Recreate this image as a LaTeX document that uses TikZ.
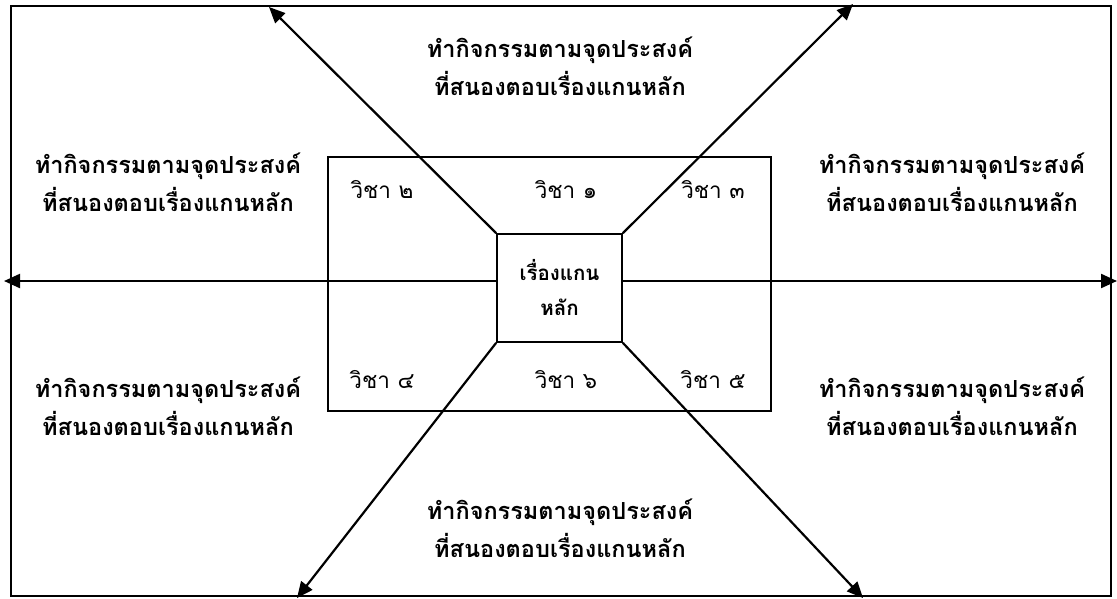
\documentclass[tikz,border=0pt]{standalone}
\usepackage{fontspec}
\newfontfamily\thaifont[Script=Thai]{Loma}
\usetikzlibrary{arrows.meta}
\begin{document}
\begin{tikzpicture}[x=1pt,y=-1pt,
  lbl/.style={font=\thaifont\bfseries\fontsize{23.5}{38}\selectfont,align=center,inner sep=0pt},
  subj/.style={font=\thaifont\fontsize{22.5}{24}\selectfont,inner sep=0pt},
  arr/.style={line width=2.2pt,-{Triangle[length=16pt,width=14pt]}},
  box/.style={draw,line width=1.7pt}]
\useasboundingbox (0,0) rectangle (1117,598);
\node[box,line width=2pt,minimum width=1100,minimum height=590,inner sep=0pt] (frame) at (561,301) {};
\node[box,minimum width=443,minimum height=254,inner sep=0pt] (inner) at (549.5,284) {};
\node[box,fill=white,minimum width=125,minimum height=108,inner sep=0pt,
  font=\thaifont\bfseries\fontsize{20.5}{35}\selectfont,align=center] (core) at (559.5,288) {เรื่องแกน\\หลัก};
\coordinate (tl) at (269,7);
\coordinate (tr) at (853,4);
\coordinate (bl) at (297,598);
\coordinate (br) at (863,598);
\coordinate (ml) at (4,281);
\coordinate (mr) at (1117,281);
\draw[arr] (core.north west) -- (tl);
\draw[arr] (core.north east) -- (tr);
\draw[arr] (core.south west) -- (bl);
\draw[arr] (core.south east) -- (br);
\draw[arr] (core.west |- ml) -- (ml);
\draw[arr] (core.east |- mr) -- (mr);
\node[lbl] (t1) at (560,66) {ทำกิจกรรมตามจุดประสงค์\\ที่สนองตอบเรื่องแกนหลัก};
\node[lbl] (t2) at (168,182) {ทำกิจกรรมตามจุดประสงค์\\ที่สนองตอบเรื่องแกนหลัก};
\node[lbl] (t3) at (952,182) {ทำกิจกรรมตามจุดประสงค์\\ที่สนองตอบเรื่องแกนหลัก};
\node[lbl] (t4) at (168,406) {ทำกิจกรรมตามจุดประสงค์\\ที่สนองตอบเรื่องแกนหลัก};
\node[lbl] (t5) at (952,406) {ทำกิจกรรมตามจุดประสงค์\\ที่สนองตอบเรื่องแกนหลัก};
\node[lbl] (t6) at (560,528) {ทำกิจกรรมตามจุดประสงค์\\ที่สนองตอบเรื่องแกนหลัก};
\node[subj] (s2) at (382,190) {วิชา ๒};
\node[subj] (s1) at (566,190) {วิชา ๑};
\node[subj] (s3) at (713,190) {วิชา ๓};
\node[subj] (s4) at (382,380) {วิชา ๔};
\node[subj] (s6) at (566,380) {วิชา ๖};
\node[subj] (s5) at (713,380) {วิชา ๕};
\end{tikzpicture}
\end{document}
